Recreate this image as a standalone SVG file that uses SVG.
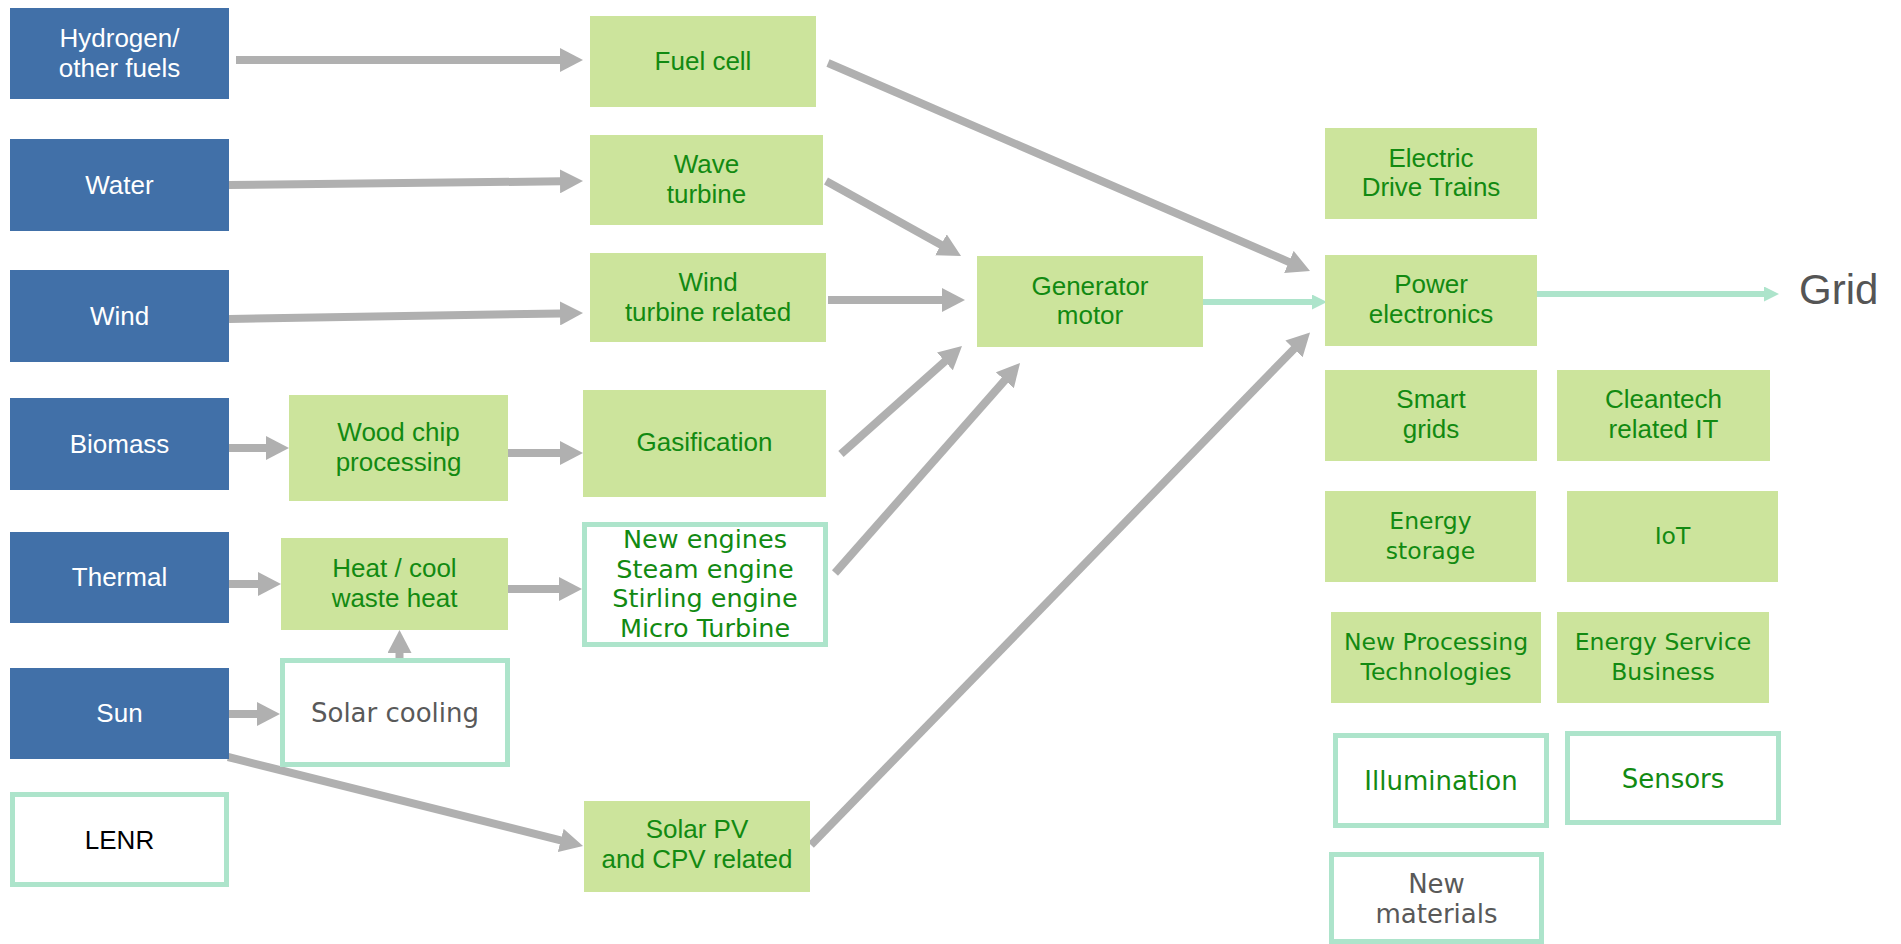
<svg xmlns="http://www.w3.org/2000/svg" width="1901" height="944" viewBox="0 0 1901 944">
<defs>
<style>
.src{fill:#4170A8}
.grn{fill:#CCE49C}
.out{fill:#FFFFFF;stroke:#ADE4CB;stroke-width:5}
.tw{font-family:"Liberation Sans",Arial,sans-serif;font-size:26px;fill:#FFFFFF;text-anchor:middle}
.tg{font-family:"Liberation Sans",Arial,sans-serif;font-size:26px;fill:#128A12;text-anchor:middle}
.tv{font-family:"DejaVu Sans",Verdana,sans-serif;font-size:25.5px;fill:#128A12;text-anchor:middle}
.tt{font-family:"DejaVu Sans",Verdana,sans-serif;font-size:23.5px;fill:#128A12;text-anchor:middle}
.tgray{font-family:"DejaVu Sans",Verdana,sans-serif;font-size:26px;fill:#595959;text-anchor:middle}
.tb{font-family:"Liberation Sans",Arial,sans-serif;font-size:26px;fill:#000000;text-anchor:middle}
.ga{stroke:#B0B0B0;stroke-width:8;fill:none;marker-end:url(#hg)}
.ta{stroke:#ADE4CB;stroke-width:6;fill:none;marker-end:url(#ht)}
</style>
<marker id="hg" markerUnits="userSpaceOnUse" viewBox="0 0 23 24" markerWidth="23" markerHeight="24" refX="1" refY="12" orient="auto">
<path d="M0,0 L23,12 L0,24 z" fill="#B0B0B0"/>
</marker>
<marker id="ht" markerUnits="userSpaceOnUse" viewBox="0 0 15 15" markerWidth="15" markerHeight="15" refX="1" refY="7.5" orient="auto">
<path d="M0,0 L15,7.5 L0,15 z" fill="#ADE4CB"/>
</marker>
</defs>

<g id="connectors">
<line class="ga" x1="236" y1="60" x2="561" y2="60"/>
<line class="ga" x1="229" y1="185" x2="561" y2="181.3"/>
<line class="ga" x1="229" y1="319" x2="561" y2="313.4"/>
<line class="ga" x1="229" y1="448" x2="267" y2="448"/>
<line class="ga" x1="508" y1="453" x2="561" y2="453"/>
<line class="ga" x1="229" y1="584" x2="259" y2="584"/>
<line class="ga" x1="508" y1="589" x2="560" y2="589"/>
<line class="ga" x1="399.5" y1="658" x2="399.5" y2="652"/>
<line class="ga" x1="229" y1="714" x2="258" y2="714"/>
<line class="ga" x1="228" y1="757" x2="561.7" y2="840.7"/>
<line class="ga" x1="828" y1="63" x2="1289.8" y2="262.3"/>
<line class="ga" x1="826" y1="181" x2="941.8" y2="245.3"/>
<line class="ga" x1="828" y1="300" x2="943" y2="300"/>
<line class="ga" x1="841" y1="454" x2="945.6" y2="360.7"/>
<line class="ga" x1="835" y1="573" x2="1005.5" y2="379.5"/>
<line class="ga" x1="811" y1="845" x2="1294.7" y2="348.2"/>
<line class="ta" x1="1203" y1="302" x2="1313" y2="302"/>
<line class="ta" x1="1537" y1="294" x2="1765" y2="294"/>
</g>

<g id="hydrogen"><rect class="src" x="10" y="8" width="219" height="91"/><text class="tw" x="119.5" y="47">Hydrogen/</text><text class="tw" x="119.5" y="77">other fuels</text></g>
<g id="water"><rect class="src" x="10" y="139" width="219" height="92"/><text class="tw" x="119.5" y="194">Water</text></g>
<g id="wind"><rect class="src" x="10" y="270" width="219" height="92"/><text class="tw" x="119.5" y="325">Wind</text></g>
<g id="biomass"><rect class="src" x="10" y="398" width="219" height="92"/><text class="tw" x="119.5" y="453">Biomass</text></g>
<g id="thermal"><rect class="src" x="10" y="532" width="219" height="91"/><text class="tw" x="119.5" y="586">Thermal</text></g>
<g id="sun"><rect class="src" x="10" y="668" width="219" height="91"/><text class="tw" x="119.5" y="722">Sun</text></g>
<g id="lenr"><rect class="out" x="12.5" y="794.5" width="214" height="90"/><text class="tb" x="119.5" y="848.5">LENR</text></g>

<g id="fuelcell"><rect class="grn" x="590" y="16" width="226" height="91"/><text class="tg" x="703" y="70">Fuel cell</text></g>
<g id="wave"><rect class="grn" x="590" y="135" width="233" height="90"/><text class="tg" x="706.5" y="173">Wave</text><text class="tg" x="706.5" y="203">turbine</text></g>
<g id="windturbine"><rect class="grn" x="590" y="253" width="236" height="89"/><text class="tg" x="708" y="291">Wind</text><text class="tg" x="708" y="321">turbine related</text></g>
<g id="woodchip"><rect class="grn" x="289" y="395" width="219" height="106"/><text class="tg" x="398.5" y="441">Wood chip</text><text class="tg" x="398.5" y="471">processing</text></g>
<g id="gasification"><rect class="grn" x="583" y="390" width="243" height="107"/><text class="tg" x="704.5" y="451">Gasification</text></g>
<g id="heatcool"><rect class="grn" x="281" y="538" width="227" height="92"/><text class="tg" x="394.5" y="577">Heat / cool</text><text class="tg" x="394.5" y="607">waste heat</text></g>
<g id="newengines"><rect class="out" x="584.5" y="524.5" width="241" height="120"/><text class="tv" x="705" y="548">New engines</text><text class="tv" x="705" y="578">Steam engine</text><text class="tv" x="705" y="607">Stirling engine</text><text class="tv" x="705" y="637">Micro Turbine</text></g>
<g id="solarcooling"><rect class="out" x="282.5" y="660.5" width="225" height="104"/><text class="tgray" x="395" y="722">Solar cooling</text></g>
<g id="solarpv"><rect class="grn" x="584" y="801" width="226" height="91"/><text class="tg" x="697" y="838">Solar PV</text><text class="tg" x="697" y="868">and CPV related</text></g>

<g id="generator"><rect class="grn" x="977" y="256" width="226" height="91"/><text class="tg" x="1090" y="295">Generator</text><text class="tg" x="1090" y="324">motor</text></g>
<g id="drivetrains"><rect class="grn" x="1325" y="128" width="212" height="91"/><text class="tg" x="1431" y="167">Electric</text><text class="tg" x="1431" y="196">Drive Trains</text></g>
<g id="powerelectronics"><rect class="grn" x="1325" y="255" width="212" height="91"/><text class="tg" x="1431" y="293">Power</text><text class="tg" x="1431" y="323">electronics</text></g>
<g id="grid"><text x="1799" y="304" style="font-family:'Liberation Sans',Arial,sans-serif;font-size:42px;fill:#555555">Grid</text></g>
<g id="smartgrids"><rect class="grn" x="1325" y="370" width="212" height="91"/><text class="tg" x="1431" y="408">Smart</text><text class="tg" x="1431" y="438">grids</text></g>
<g id="cleantech"><rect class="grn" x="1557" y="370" width="213" height="91"/><text class="tg" x="1663.5" y="408">Cleantech</text><text class="tg" x="1663.5" y="438">related IT</text></g>
<g id="energystorage"><rect class="grn" x="1325" y="491" width="211" height="91"/><text class="tt" x="1430.5" y="529">Energy</text><text class="tt" x="1430.5" y="559">storage</text></g>
<g id="iot"><rect class="grn" x="1567" y="491" width="211" height="91"/><text class="tt" x="1672.5" y="544">IoT</text></g>
<g id="newprocessing"><rect class="grn" x="1331" y="612" width="210" height="91"/><text class="tt" x="1436" y="650">New Processing</text><text class="tt" x="1436" y="680">Technologies</text></g>
<g id="energyservice"><rect class="grn" x="1557" y="612" width="212" height="91"/><text class="tt" x="1663" y="650">Energy Service</text><text class="tt" x="1663" y="680">Business</text></g>
<g id="illumination"><rect class="out" x="1335.5" y="735.5" width="211" height="90"/><text class="tv" x="1441" y="790" style="font-size:26px">Illumination</text></g>
<g id="sensors"><rect class="out" x="1567.5" y="733.5" width="211" height="89"/><text class="tv" x="1673" y="788" style="font-size:26px">Sensors</text></g>
<g id="newmaterials"><rect class="out" x="1331.5" y="854.5" width="210" height="87"/><text class="tgray" x="1436.5" y="893">New</text><text class="tgray" x="1436.5" y="923">materials</text></g>
</svg>
